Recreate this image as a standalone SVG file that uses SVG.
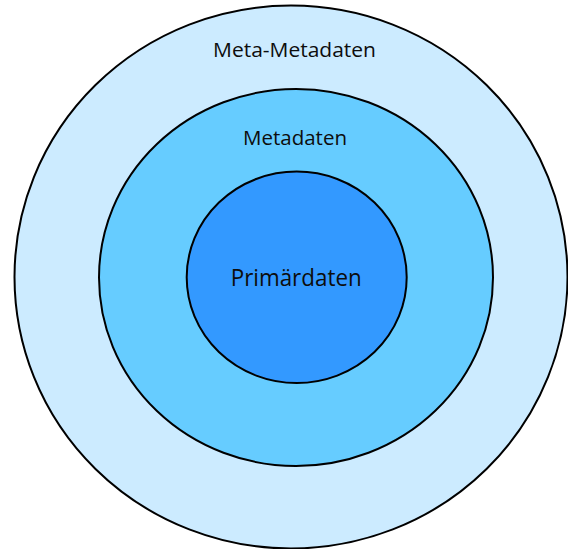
<svg xmlns="http://www.w3.org/2000/svg" width="568" height="549" viewBox="0 0 568 549">
  <style>
    .ring { stroke: #000; stroke-width: 2; }
    .label { font-family: "Open Sans", "Noto Sans", "Liberation Sans", sans-serif; fill: #0d0d0d; text-anchor: middle; }
  </style>
  <rect width="568" height="549" fill="#fff"/>
  <!-- outer layer -->
  <g id="meta-metadaten">
    <ellipse class="ring" cx="291" cy="277" rx="276.5" ry="271.5" fill="#CCEBFF"/>
    <text class="label" x="294.5" y="57.3" font-size="19.5" textLength="163" lengthAdjust="spacingAndGlyphs">Meta-Metadaten</text>
  </g>
  <!-- middle layer -->
  <g id="metadaten">
    <ellipse class="ring" cx="296" cy="277.5" rx="197" ry="188.5" fill="#66CCFF"/>
    <text class="label" x="295" y="145" font-size="19.5" textLength="104" lengthAdjust="spacingAndGlyphs">Metadaten</text>
  </g>
  <!-- core -->
  <g id="primaerdaten">
    <ellipse class="ring" cx="296.7" cy="277.3" rx="110" ry="105.7" fill="#3399FF"/>
    <text class="label" x="296.2" y="286" font-size="24.2" textLength="131" lengthAdjust="spacingAndGlyphs">Primärdaten</text>
  </g>
  <g id="connectors"/>
</svg>
